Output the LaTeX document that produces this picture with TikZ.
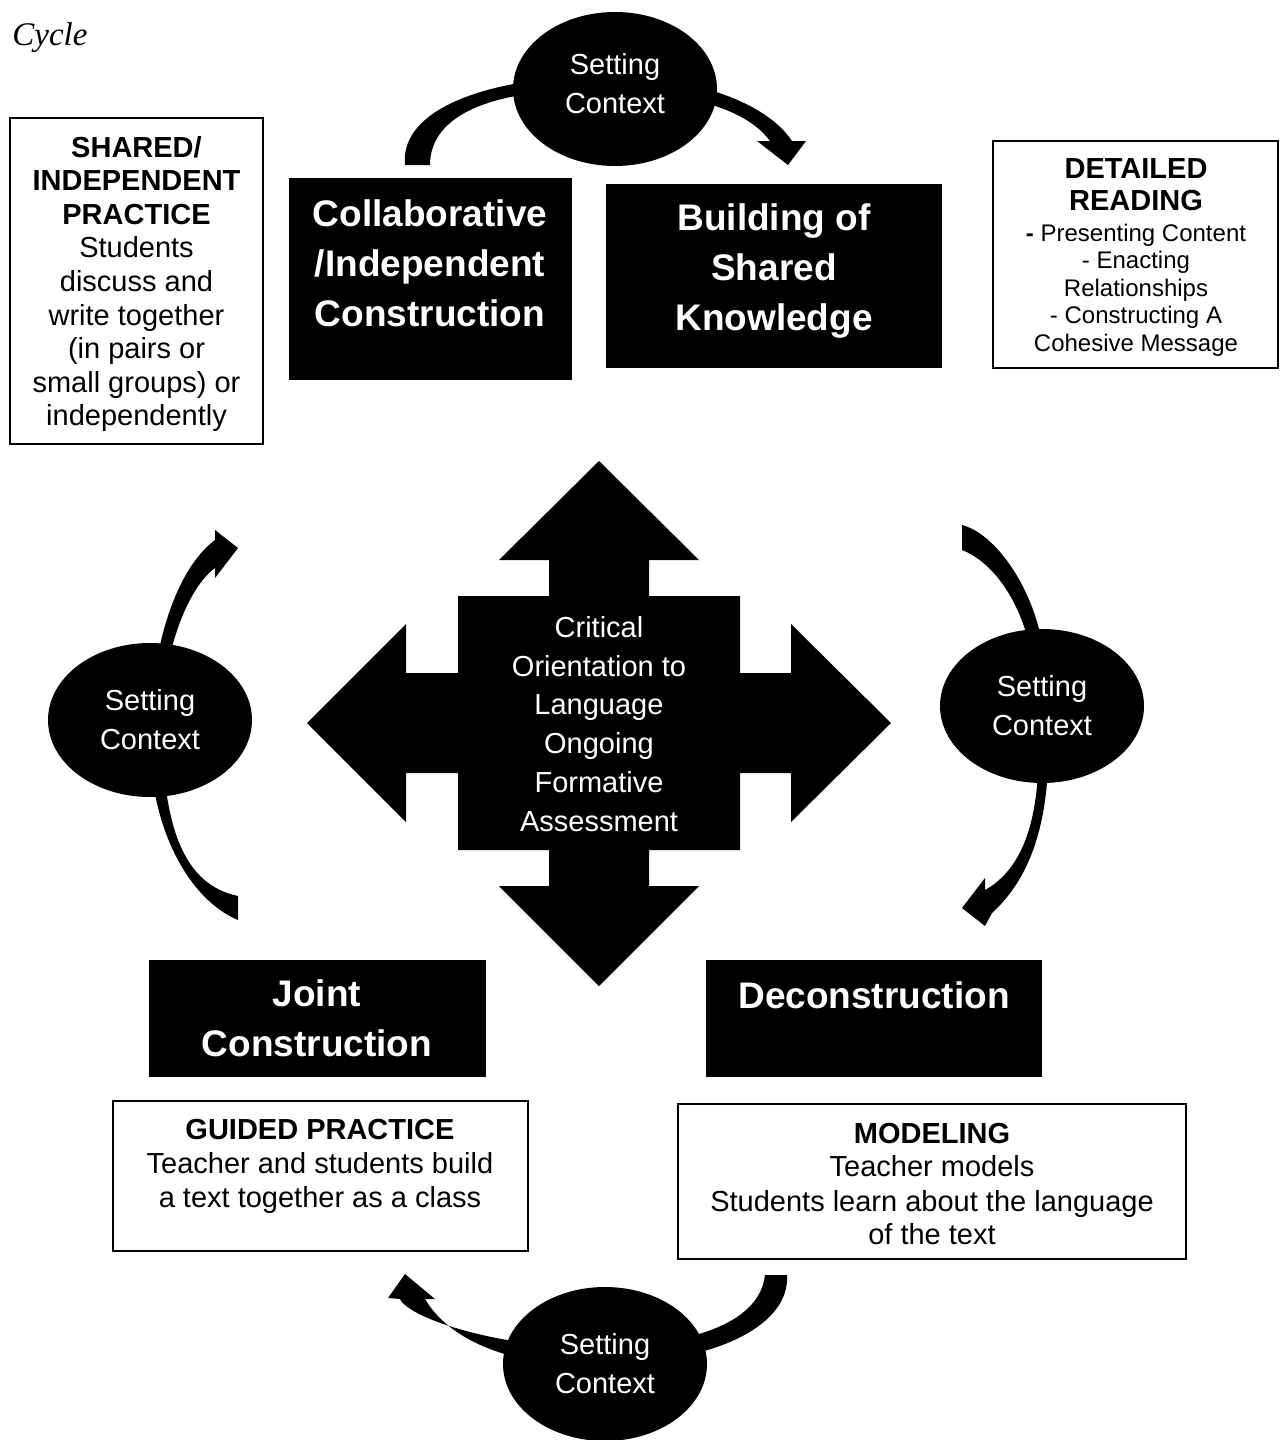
\documentclass[tikz,border=0pt]{standalone}
\usepackage{fontspec}
\setmainfont{Liberation Sans}
\newfontfamily\serifit{Liberation Serif}
\usetikzlibrary{shapes.geometric,fit}

\begin{document}
\begin{tikzpicture}[x=0.5pt,y=-0.5pt,
  blackbox/.style={fill=black, draw=none, inner sep=0pt},
  boxtitle/.style={text=white, font=\fontsize{18.5}{25}\selectfont\bfseries, align=center, inner sep=0pt},
  notebox/.style={draw=black, line width=0.6pt, fill=white, inner sep=0pt},
  notetext/.style={font=\fontsize{14.5}{17}\selectfont, align=center, inner sep=0pt},
  stage/.style={ellipse, fill=black, minimum width=102pt, minimum height=77pt, inner sep=0pt,
                text=white, font=\fontsize{14.5}{19.5}\selectfont, align=center},
  stagetext/.style={inner sep=0pt, text=white, font=\fontsize{14.5}{19.5}\selectfont, align=center},
  swoop/.style={fill=black, draw=none}
]
\useasboundingbox (0,0) rectangle (1280,1440);

% title fragment
\node[anchor=west, inner sep=0pt, font=\fontsize{16.5}{20}\serifit\itshape] (cyc) at (12,38) {Cycle};

% ---------- curved arrows around the stages ----------
% top: from Collaborative over to Building
\fill[swoop] (405,165) .. controls (400,115) and (470,85) .. (560,78)
  .. controls (680,68) and (765,100) .. (792,141)
  -- (806,141) -- (788,165) -- (757,141) -- (770,141)
  .. controls (740,100) and (660,90) .. (580,90)
  .. controls (480,92) and (430,120) .. (430,165) -- cycle;
% right: down towards Deconstruction
\fill[swoop] (962,525) .. controls (1000,535) and (1040,600) .. (1044,660)
  .. controls (1055,770) and (1050,860) .. (992,913)
  -- (985,926) -- (962,908) -- (985,878) -- (985,890)
  .. controls (1030,865) and (1045,800) .. (1036,700)
  .. controls (1035,620) and (1000,565) .. (962,550) -- cycle;
% bottom: from Deconstruction across to Joint Construction
\fill[swoop] (787,1275) .. controls (790,1320) and (730,1355) .. (640,1362)
  .. controls (540,1375) and (455,1350) .. (425,1299)
  -- (435,1299) -- (405,1274) -- (388,1298) -- (400,1299)
  .. controls (410,1320) and (510,1350) .. (600,1347)
  .. controls (700,1345) and (760,1320) .. (765,1275) -- cycle;
% left: up towards Collaborative
\fill[swoop] (238,920) .. controls (190,900) and (150,830) .. (150,740)
  .. controls (150,650) and (175,570) .. (215,540)
  -- (215,530) -- (238,548) -- (215,578) -- (215,568)
  .. controls (185,590) and (162,660) .. (162,720)
  .. controls (162,830) and (185,885) .. (238,896) -- cycle;

% ---------- Setting Context ellipses ----------
\node[stage] (sctop) at (615,89) {};
\node[stagetext] (sctopT) at (615,84) {Setting\\Context};
\node[stage] (scright) at (1042,706) {Setting\\Context};
\node[stage] (scbottom) at (605,1364) {Setting\\Context};
\node[stage] (scleft) at (150,720) {Setting\\Context};

% ---------- four-way arrow in the middle ----------
\fill (599,461) -- (699,560) -- (649,560) -- (649,596) -- (740,596) -- (740,673)
  -- (791,673) -- (791,624) -- (891,723) -- (791,822) -- (791,773) -- (740,773)
  -- (740,850) -- (649,850) -- (649,886) -- (699,886) -- (599,986) -- (499,886)
  -- (549,886) -- (549,850) -- (458,850) -- (458,773) -- (406,773) -- (406,822)
  -- (307,723) -- (406,624) -- (406,673) -- (458,673) -- (458,596) -- (549,596)
  -- (549,560) -- (499,560) -- cycle;
\node[text=white, font=\fontsize{14.5}{19.4}\selectfont, align=center, inner sep=0pt] (core) at (599,724)
  {Critical\\Orientation to\\Language\\Ongoing\\Formative\\Assessment};

% ---------- stage boxes ----------
\node[blackbox, fit={(289,178) (572,380)}] (collab) {};
\node[boxtitle] (collabT) at (430,263) {Collaborative\\/Independent\\Construction};

\node[blackbox, fit={(606,184) (942,368)}] (build) {};
\node[boxtitle] (buildT) at (774,271.5) {Building of\\Shared\\Knowledge};

\node[blackbox, fit={(149,960) (486,1077)}] (joint) {};
\node[boxtitle] (jointT) at (317,1018) {Joint\\Construction};

\node[blackbox, fit={(706,960) (1042,1077)}] (decon) {};
\node[boxtitle] (deconT) at (874,995) {Deconstruction};

% ---------- practice notes ----------
\node[notebox, fit={(10,118) (263,444)}] (shared) {};
\node[notetext, font=\fontsize{14.5}{16.8}\selectfont] (sharedT) at (136.5,284)
  {\textbf{SHARED/}\\\textbf{INDEPENDENT}\\\textbf{PRACTICE}\\Students\\discuss and\\write together\\(in pairs or\\small groups) or\\independently};

\node[notebox, fit={(993,141) (1278,368)}] (detail) {};
\node[inner sep=0pt, align=center, font=\fontsize{14.5}{16}\selectfont\bfseries] (detailT) at (1136,185)
  {DETAILED\\READING};
\node[inner sep=0pt, align=center, font=\fontsize{12}{13.75}\selectfont] (detailB) at (1136,290)
  {\textbf{-} Presenting Content\\- Enacting\\Relationships\\- Constructing A\\Cohesive Message};

\node[notebox, fit={(113,1101) (528,1251)}] (guided) {};
\node[notetext] (guidedT) at (320,1166)
  {\textbf{GUIDED PRACTICE}\\Teacher and students build\\a text together as a class};

\node[notebox, fit={(678,1104) (1186,1259)}] (model) {};
\node[notetext] (modelT) at (932,1184)
  {\textbf{MODELING}\\Teacher models\\Students learn about the language\\of the text};
\end{tikzpicture}
\end{document}
